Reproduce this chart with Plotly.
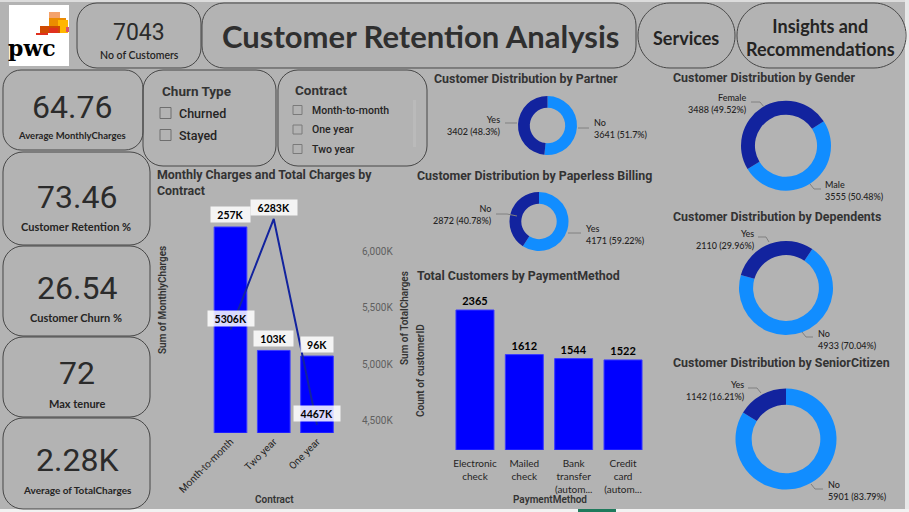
import plotly.graph_objects as go

W, H = 909, 512
BG = "#b3b3b3"
DARK = "#12239E"
LIGHT = "#118DFF"
BAR = "#0000FF"
TXT = "#252423"
SEGOE = "Lato, 'Open Sans', sans-serif"
DIN = "Roboto, 'DejaVu Sans', sans-serif"

# ---------------- data ----------------
kpi_customers = "7043"
kpi_avg_monthly = "64.76"
kpi_retention = "73.46"
kpi_churn = "26.54"
kpi_max_tenure = "72"
kpi_avg_total = "2.28K"

contracts = ["Month-to-month", "Two year", "One year"]
monthly_charges_k = [257, 103, 96]
total_charges_k = [5306, 6283, 4467]
total_ticks = [4500, 5000, 5500, 6000]
total_tick_text = ["4,500K", "5,000K", "5,500K", "6,000K"]

payment_methods = ["Electronic check", "Mailed check", "Bank transfer (automatic)", "Credit card (automatic)"]
payment_tick_text = ["Electronic<br>check", "Mailed<br>check", "Bank<br>transfer<br>(autom...", "Credit<br>card<br>(autom..."]
payment_counts = [2365, 1612, 1544, 1522]

partner_labels = ["No", "Yes"]
partner_values = [3641, 3402]
paperless_labels = ["Yes", "No"]
paperless_values = [4171, 2872]
gender_labels = ["Male", "Female"]
gender_values = [3555, 3488]
dependents_labels = ["No", "Yes"]
dependents_values = [4933, 2110]
senior_labels = ["No", "Yes"]
senior_values = [5901, 1142]

churn_types = ["Churned", "Stayed"]
contract_options = ["Month-to-month", "One year", "Two year"]


# ---------------- helpers ----------------
def PX(x):
    return x / W


def PY(y):
    return 1 - y / H


shapes = []
annotations = []


def rrect(x0, y0, x1, y1, r, line="#474747", fill="rgba(0,0,0,0)", width=1):
    k = 0.5523 * r

    def p(x, y):
        return f"{PX(x):.5f},{PY(y):.5f}"

    path = (
        f"M{p(x0 + r, y0)} L{p(x1 - r, y0)} C{p(x1 - r + k, y0)} {p(x1, y0 + r - k)} {p(x1, y0 + r)} "
        f"L{p(x1, y1 - r)} C{p(x1, y1 - r + k)} {p(x1 - r + k, y1)} {p(x1 - r, y1)} "
        f"L{p(x0 + r, y1)} C{p(x0 + r - k, y1)} {p(x0, y1 - r + k)} {p(x0, y1 - r)} "
        f"L{p(x0, y0 + r)} C{p(x0, y0 + r - k)} {p(x0 + r - k, y0)} {p(x0 + r, y0)} Z"
    )
    shapes.append(dict(type="path", xref="paper", yref="paper", path=path,
                       line=dict(color=line, width=width), fillcolor=fill, layer="below"))


def rect(x0, y0, x1, y1, fill, line=None, lw=0):
    shapes.append(dict(type="rect", xref="paper", yref="paper", x0=PX(x0), x1=PX(x1),
                       y0=PY(y1), y1=PY(y0), fillcolor=fill,
                       line=dict(color=line or fill, width=lw), layer="below"))


def seg(pts, color="#808080", width=1):
    path = "M" + " L".join(f"{PX(x):.5f},{PY(y):.5f}" for x, y in pts)
    shapes.append(dict(type="path", xref="paper", yref="paper", path=path,
                       line=dict(color=color, width=width)))


def text(t, x, y, size, weight=400, family=SEGOE, color=TXT, xanchor="center", align="center", angle=0):
    annotations.append(dict(text=t, x=PX(x), y=PY(y), xref="paper", yref="paper", showarrow=False,
                            xanchor=xanchor, yanchor="middle", align=align, textangle=angle,
                            font=dict(size=size, family=family, color=color, weight=weight)))


# ---------------- frame ----------------
rect(0, 0, 909, 2, "#dcdcdc")
rect(905, 0, 909, 512, "#e8e8e8")
rect(0, 509, 909, 512, "#f2f2f2")
rect(578, 509, 616, 512, "#1f7a5c")

# logo
rect(9, 5, 69, 66, "#ffffff")
rect(49, 12, 60, 19, "#f4a26c")
rect(49, 18, 66, 26, "#eb8c00")
rect(58, 20, 68, 33, "#ffb600")
rect(40, 26, 60, 33, "#d04a02")
rect(49, 28, 58, 33, "#e0301e")
rect(66, 27, 69, 32, "#db536a")
rect(36, 33, 48, 35, "#e0301e")
text("pwc", 32, 48, 22, 700, "'DejaVu Serif', serif", "#000000")

# cards
rrect(77, 3, 201, 68, 20)
rrect(202, 3, 636, 68, 22)
rrect(638, 3, 735, 68, 32)
rrect(737, 3, 906, 68, 32)
rrect(3, 70, 143, 150, 18)
rrect(143, 70, 276, 166, 20)
rrect(278, 70, 427, 166, 20)
rrect(3, 152, 150, 245, 20)
rrect(3, 246, 150, 336, 20)
rrect(3, 337, 150, 417, 20)
rrect(3, 418, 150, 509, 20)

# header texts
text(kpi_customers, 139, 32, 23, 400, DIN, "#2b2b2b")
text("No of Customers", 139, 55, 10.5, 600)
text("Customer Retention Analysis", 420, 36, 31, 700, SEGOE, "#2f2f2f")
text("Services", 686, 38, 18, 700)
text("Insights and<br>Recommendations", 820, 37, 18, 700)

# KPI cards
KS = 32
text(kpi_avg_monthly, 72, 107, KS, 400, DIN, "#2b2b2b")
text("Average MonthlyCharges", 72, 135, 9.5, 700)
text(kpi_retention, 77, 197, KS, 400, DIN, "#2b2b2b")
text("Customer Retention %", 76, 226, 11, 700)
text(kpi_churn, 77, 288, KS, 400, DIN, "#2b2b2b")
text("Customer Churn %", 76, 317, 11, 700)
text(kpi_max_tenure, 77, 373, KS, 400, DIN, "#2b2b2b")
text("Max tenure", 77, 403, 11, 700)
text(kpi_avg_total, 77, 460, KS, 400, DIN, "#2b2b2b")
text("Average of TotalCharges", 77, 490, 10, 700)

# slicers
text("Churn Type", 160, 91, 13.5, 700, DIN, "#333333", xanchor="left")
for i, c in enumerate(churn_types):
    yy = 113 + 22 * i
    rect(160, yy - 5.5, 171, yy + 5.5, "rgba(0,0,0,0)", "#6e6e6e", 1)
    text(c, 177, yy, 12.5, 500, DIN, TXT, xanchor="left")
text("Contract", 293, 90, 13.5, 700, DIN, "#333333", xanchor="left")
for i, c in enumerate(contract_options):
    yy = 110 + 19.5 * i
    rect(293, yy - 4.5, 302, yy + 4.5, "rgba(0,0,0,0)", "#7a7a7a", 1)
    text(c, 310, yy, 10.5, 500, DIN, TXT, xanchor="left")
rect(413, 100, 416, 147, "#bababa")

# chart titles
TS = 12.4
text("Monthly Charges and Total Charges by<br>Contract", 155, 182, TS, 700, DIN, "#333333", xanchor="left", align="left")
text("Customer Distribution by Partner", 432, 78, TS, 700, DIN, "#333333", xanchor="left")
text("Customer Distribution by Paperless Billing", 415, 175, TS, 700, DIN, "#333333", xanchor="left")
text("Total Customers by PaymentMethod", 415, 275, TS, 700, DIN, "#333333", xanchor="left")
text("Customer Distribution by Gender", 671, 77, TS, 700, DIN, "#333333", xanchor="left")
text("Customer Distribution by Dependents", 671, 216, TS, 700, DIN, "#333333", xanchor="left")
text("Customer Distribution by SeniorCitizen", 671, 362, TS, 700, DIN, "#333333", xanchor="left")

# axis titles
text("Sum of MonthlyCharges", 162, 300, 10, 600, DIN, "#333333", angle=-90)
text("Sum of TotalCharges", 404, 318, 10, 600, DIN, "#333333", angle=-90)
text("Count of customerID", 420, 371, 10, 600, DIN, "#333333", angle=-90)
text("Contract", 274, 499, 10, 600, DIN, "#333333")
text("PaymentMethod", 550, 499, 10, 600, DIN, "#333333")

fig = go.Figure()

# ---------------- combo chart ----------------
fig.add_trace(go.Bar(x=contracts, y=monthly_charges_k, xaxis="x", yaxis="y", width=0.755,
                     marker=dict(color=BAR, line=dict(color="#3b3bff", width=1)), hoverinfo="x+y"))
fig.add_trace(go.Scatter(x=contracts, y=total_charges_k, xaxis="x", yaxis="y2", mode="lines",
                         line=dict(color=DARK, width=2), hoverinfo="x+y"))
for c, v in zip(contracts, monthly_charges_k):
    t = f"{v}K"
    annotations.append(dict(text=t, x=c, y=v, xref="x", yref="y", showarrow=False, yshift=12,
                            bgcolor="rgba(255,255,255,0.85)", borderpad=1.5, width=6.6 * len(t) + 9.5,
                            font=dict(size=10.5, family=SEGOE, color="#000000", weight=700)))
for c, v in zip(contracts, total_charges_k):
    t = f"{v}K"
    annotations.append(dict(text=t, x=c, y=v, xref="x", yref="y2", showarrow=False, yshift=11,
                            bgcolor="rgba(255,255,255,0.85)", borderpad=1.5, width=6.6 * len(t) + 9.5,
                            font=dict(size=10.5, family=SEGOE, color="#000000", weight=700)))

# ---------------- payment chart ----------------
fig.add_trace(go.Bar(x=payment_methods, y=payment_counts, xaxis="x3", yaxis="y3", width=0.77,
                     marker=dict(color=BAR, line=dict(color="#3b3bff", width=1)),
                     text=[str(v) for v in payment_counts], textposition="outside", cliponaxis=False,
                     textfont=dict(size=11, family=SEGOE, color="#000000", weight=700), hoverinfo="x+y"))


# ---------------- donuts ----------------
def donut(labels, values, cx, cy, r, hole, rotation):
    fig.add_trace(go.Pie(labels=labels, values=values, hole=hole, sort=False, direction="clockwise",
                         rotation=rotation, textinfo="none", showlegend=False, automargin=False,
                         marker=dict(colors=[LIGHT, DARK], line=dict(width=0)),
                         domain=dict(x=[PX(cx - r), PX(cx + r)], y=[PY(cy + r), PY(cy - r)])))


def donut_label(labels, values, idx, x, y, side, dec):
    tot = sum(values)
    pct = values[idx] / tot * 100
    t = f"{labels[idx]}<br>{values[idx]} ({pct:.{dec}f}%)"
    if side == "left":
        text(t, x, y, 9, 500, SEGOE, TXT, xanchor="right", align="right")
    else:
        text(t, x, y, 9, 500, SEGOE, TXT, xanchor="left", align="left")


donut(partner_labels, partner_values, 547.5, 125.5, 29.5, 0.6, 0)
donut_label(partner_labels, partner_values, 1, 503, 125, "left", 1)
donut_label(partner_labels, partner_values, 0, 592, 128, "right", 1)
seg([(505, 123), (517, 123)])
seg([(578, 128), (589, 128)])

donut(paperless_labels, paperless_values, 539, 221.5, 29.5, 0.6, 0)
donut_label(paperless_labels, paperless_values, 1, 494, 214, "left", 2)
donut_label(paperless_labels, paperless_values, 0, 583, 234, "right", 2)
seg([(496, 214), (507, 214), (517, 216)])
seg([(568, 233), (581, 233)])

donut(gender_labels, gender_values, 786, 145.7, 45, 0.69, 57)
donut_label(gender_labels, gender_values, 1, 749, 103, "left", 2)
donut_label(gender_labels, gender_values, 0, 823, 190, "right", 2)
seg([(751, 102), (760, 102), (764, 107)])
seg([(810, 184), (814, 189), (821, 189)])

donut(dependents_labels, dependents_values, 786, 288, 47, 0.7, 34)
donut_label(dependents_labels, dependents_values, 1, 757, 239, "left", 2)
donut_label(dependents_labels, dependents_values, 0, 815.5, 339.5, "right", 2)
seg([(758, 237), (766, 237), (769, 242)])
seg([(802, 332), (806, 337), (813, 337)])

donut(senior_labels, senior_values, 786, 439, 50.5, 0.68, 0)
donut_label(senior_labels, senior_values, 1, 747, 390, "left", 2)
donut_label(senior_labels, senior_values, 0, 825.5, 490, "right", 2)
seg([(748, 388), (757, 388), (761, 393)])
seg([(811, 484), (815, 489), (823, 489)])

# ---------------- layout ----------------
axis_hidden = dict(showgrid=False, zeroline=False, showticklabels=False, showline=False, ticks="",
                   automargin=False)
fig.update_layout(
    width=W, height=H, autosize=False,
    margin=dict(l=0, r=0, t=0, b=0, pad=0, autoexpand=False),
    paper_bgcolor=BG, plot_bgcolor="rgba(0,0,0,0)",
    showlegend=False, bargap=0.245,
    xaxis=dict(domain=[PX(206.5), PX(341)], anchor="y", type="category", categoryorder="array",
               categoryarray=contracts, showgrid=False, zeroline=False, showline=False, ticks="",
               automargin=False, tickangle=-45, tickfont=dict(size=10, family=DIN, color=TXT)),
    yaxis=dict(domain=[PY(433), PY(205)], anchor="x", range=[0, 284.4], **axis_hidden),
    yaxis2=dict(overlaying="y", side="right", anchor="x", range=[4394, 6406], automargin=False,
                tickvals=total_ticks, ticktext=total_tick_text, showgrid=False, zeroline=False,
                showline=False, ticks="", ticklabelstandoff=20,
                tickfont=dict(size=10, family=DIN, color="#5f5f5f")),
    xaxis3=dict(domain=[PX(450.3), PX(647.7)], anchor="y3", type="category", automargin=False,
                tickvals=payment_methods, ticktext=payment_tick_text, tickangle=0,
                showgrid=False, zeroline=False, showline=False, ticks="", ticklabelstandoff=6,
                tickfont=dict(size=10, family=SEGOE, color=TXT)),
    yaxis3=dict(domain=[PY(450), PY(290)], anchor="x3", range=[0, 2703], **axis_hidden),
    shapes=shapes,
    annotations=annotations,
)

fig.write_html("out.html")
